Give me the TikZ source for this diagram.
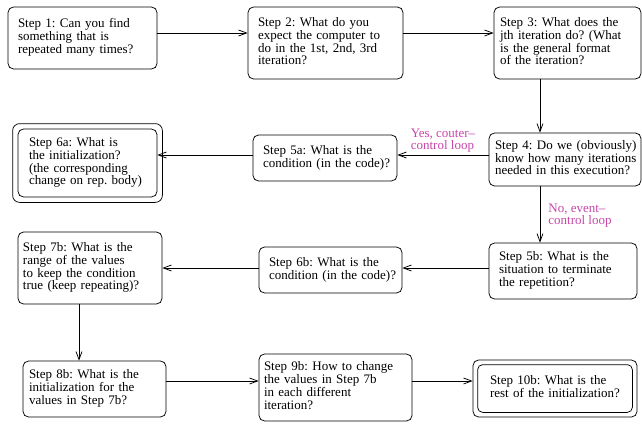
\documentclass[tikz,border=0pt]{standalone}
\usepackage{fontspec}
\setmainfont{Liberation Serif}
\usetikzlibrary{arrows.meta}
\definecolor{lblcol}{RGB}{200,70,170}
\frenchspacing
\newcommand{\tx}[1]{\begin{tabular}{@{}l@{}}#1\end{tabular}}
\begin{document}
\begin{tikzpicture}[x=1pt,y=-1pt,
  every node/.style={font=\fontsize{13}{12.7}\selectfont},
  box/.style={draw, line width=0.75pt, rounded corners=5.5pt, inner ysep=0pt, align=left},
  arr/.style={line width=0.75pt, -{Straight Barb[length=8pt,width=6pt]}},
  lbl/.style={text=lblcol, align=left, inner sep=1pt}]
\useasboundingbox (0,0) rectangle (642,423);
\fill[white] (0,0) rectangle (642,423);

\node[box, minimum height=62pt, inner xsep=10pt, text width=129pt] (n1) at (82.5,38)
  {\tx{Step 1: Can you find\\something that is\\repeated many times?}};
\node[box, minimum height=72pt, inner xsep=10pt, text width=135pt] (n2) at (325.5,43)
  {\tx{Step 2: What do you\\expect the computer to\\do in the 1st, 2nd, 3rd\\iteration?}};
\node[box, minimum height=72pt, inner xsep=6pt, text width=135pt] (n3) at (567.5,43)
  {\tx{Step 3: What does the\\jth iteration do? (What\\is the general format\\of the iteration?}};
\node[box, minimum height=53pt, inner xsep=6pt, text width=140pt] (n4) at (565,159.5)
  {\tx{Step 4: Do we (obviously)\\know how many iterations\\needed in this execution?}};
\node[box, minimum height=46pt, inner xsep=10pt, text width=124pt] (n5a) at (325,158)
  {\tx{Step 5a: What is the\\condition (in the code)?}};
\node[box, minimum height=68pt, inner xsep=11pt, text width=117pt] (n6a) at (87.5,163)
  {\tx{Step 6a: What is\\the initialization?\\(the corresponding\\change on rep. body)}};
\draw[line width=0.75pt, rounded corners=7pt] ([shift={(-5pt,5pt)}]n6a.north west) rectangle ([shift={(5pt,-5pt)}]n6a.south east);
\node[box, minimum height=56pt, inner xsep=10pt, text width=128pt] (n5b) at (563,271)
  {\tx{Step 5b: What is the\\situation to terminate\\the repetition?}};
\node[box, minimum height=46pt, inner xsep=10pt, text width=123pt] (n6b) at (330.5,270)
  {\tx{Step 6b: What is the\\condition (in the code)?}};
\node[box, minimum height=72pt, inner xsep=5pt, text width=134pt] (n7b) at (90,268)
  {\tx{Step 7b: What is the\\range of the values\\to keep the condition\\true (keep repeating)?}};
\node[box, minimum height=56pt, inner xsep=6pt, text width=131pt] (n8b) at (94.5,389)
  {\tx{Step 8b: What is the\\initialization for the\\values in Step 7b?}};
\node[box, minimum height=67pt, inner xsep=5pt, text width=143pt] (n9b) at (335.5,387.5)
  {\tx{Step 9b: How to change\\the values in Step 7b\\in each different\\iteration?}};
\node[box, minimum height=57pt, inner xsep=17pt, text width=130pt] (n10b) at (555,388.5)
  {\tx{Step 10b: What is the\\rest of the initialization?}};
\draw[line width=0.75pt, rounded corners=5pt] ([shift={(5pt,-5pt)}]n10b.north west) rectangle ([shift={(-5pt,5pt)}]n10b.south east);

\draw[arr] ([yshift=5pt]n1.east) -- ([yshift=5pt]n1.east -| n2.west);
\draw[arr] ([yshift=10pt]n2.east) -- ([yshift=10pt]n2.east -| n3.west);
\draw[arr] ([xshift=-27.5pt]n3.south) -- ([xshift=-27.5pt]n3.south |- n4.north);
\draw[arr] ([yshift=4.5pt]n4.west) -- ([yshift=4.5pt]n4.west -| n5a.east)
  node[lbl, midway, above, yshift=1pt] {Yes, couter–\\control loop};
\draw[arr] ([yshift=3pt]n5a.west) -- ([yshift=3pt]n5a.west -| n6a.east);
\draw[arr] ([xshift=-25pt]n4.south) -- ([xshift=-25pt]n4.south |- n5b.north)
  node[lbl, midway, right, xshift=7pt, yshift=-1pt] {No, event–\\control loop};
\draw[arr] ([yshift=3pt]n5b.west) -- ([yshift=3pt]n5b.west -| n6b.east);
\draw[arr] ([yshift=2pt]n6b.west) -- ([yshift=2pt]n6b.west -| n7b.east);
\draw[arr] ([xshift=-11pt]n7b.south) -- ([xshift=-11pt]n7b.south |- n8b.north);
\draw[arr] ([yshift=8pt]n8b.east) -- ([yshift=8pt]n8b.east -| n9b.west);
\draw[arr] ([yshift=6.5pt]n9b.east) -- ([yshift=6.5pt]n9b.east -| n10b.west);
\end{tikzpicture}
\end{document}
